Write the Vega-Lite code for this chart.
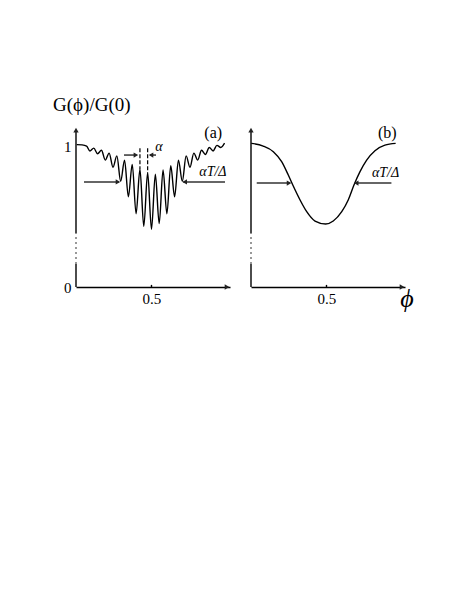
{
  "$schema": "https://vega.github.io/schema/vega-lite/v6.json",
  "background": "white",
  "padding": {"left": 53, "top": 96, "right": 5, "bottom": 5},
  "bounds": "flush",
  "spacing": 21,
  "config": {
    "view": {"stroke": null},
    "font": "Liberation Serif",
    "axis": {"grid": false, "labelColor": "black", "labelFont": "Liberation Serif", "labelFontSize": 15, "title": null}
  },
  "datasets": {
    "curveA": [
      {"x": 0.005, "v": 1.01}, {"x": 0.04, "v": 1.008}, {"x": 0.07, "v": 1.0},
      {"x": 0.092, "v": 0.965}, {"x": 0.1175, "v": 0.985}, {"x": 0.143, "v": 0.945},
      {"x": 0.1685, "v": 0.97}, {"x": 0.194, "v": 0.9}, {"x": 0.2195, "v": 0.95},
      {"x": 0.245, "v": 0.85}, {"x": 0.2705, "v": 0.93}, {"x": 0.296, "v": 0.75},
      {"x": 0.3215, "v": 0.9}, {"x": 0.347, "v": 0.64}, {"x": 0.3725, "v": 0.87},
      {"x": 0.398, "v": 0.52}, {"x": 0.4235, "v": 0.835}, {"x": 0.449, "v": 0.43},
      {"x": 0.4745, "v": 0.81}, {"x": 0.5, "v": 0.41}, {"x": 0.5255, "v": 0.8},
      {"x": 0.551, "v": 0.45}, {"x": 0.5765, "v": 0.83}, {"x": 0.602, "v": 0.52},
      {"x": 0.6275, "v": 0.86}, {"x": 0.653, "v": 0.64}, {"x": 0.6785, "v": 0.9},
      {"x": 0.704, "v": 0.75}, {"x": 0.7295, "v": 0.93}, {"x": 0.755, "v": 0.85},
      {"x": 0.7805, "v": 0.95}, {"x": 0.806, "v": 0.9}, {"x": 0.8315, "v": 0.97},
      {"x": 0.857, "v": 0.94}, {"x": 0.8825, "v": 0.99}, {"x": 0.908, "v": 0.965},
      {"x": 0.9335, "v": 1.005}, {"x": 0.959, "v": 0.99}, {"x": 0.984, "v": 1.02}
    ],
    "curveB": [
      {"x": 0.002, "v": 1.019}, {"x": 0.081, "v": 1.0}, {"x": 0.148, "v": 0.96},
      {"x": 0.203, "v": 0.889}, {"x": 0.247, "v": 0.794}, {"x": 0.28, "v": 0.716},
      {"x": 0.325, "v": 0.617}, {"x": 0.369, "v": 0.534}, {"x": 0.424, "v": 0.468},
      {"x": 0.495, "v": 0.447}, {"x": 0.545, "v": 0.468}, {"x": 0.601, "v": 0.534},
      {"x": 0.644, "v": 0.617}, {"x": 0.682, "v": 0.723}, {"x": 0.722, "v": 0.818},
      {"x": 0.766, "v": 0.9}, {"x": 0.821, "v": 0.967}, {"x": 0.887, "v": 1.007},
      {"x": 0.958, "v": 1.019}
    ],
    "segA": [
      {"kind": "solid", "x": 0, "x2": 0, "v": 0, "v2": 0.163},
      {"kind": "solid", "x": 0, "x2": 0, "v": 0.383, "v2": 1.11},
      {"kind": "broken", "x": 0, "x2": 0, "v": 0.163, "v2": 0.383},
      {"kind": "solid", "x": 0.5, "x2": 0.5, "v": 0, "v2": 0.015},
      {"kind": "arrow", "x": 0.053, "x2": 0.285, "v": 0.745, "v2": 0.745},
      {"kind": "arrow", "x": 0.987, "x2": 0.71, "v": 0.745, "v2": 0.745},
      {"kind": "arrow", "x": 0.318, "x2": 0.4, "v": 0.936, "v2": 0.936},
      {"kind": "arrow", "x": 0.53, "x2": 0.49, "v": 0.936, "v2": 0.936},
      {"kind": "marker", "x": 0.4235, "x2": 0.4235, "v": 0.985, "v2": 0.835},
      {"kind": "marker", "x": 0.4745, "x2": 0.4745, "v": 0.985, "v2": 0.81}
    ],
    "segB": [
      {"kind": "solid", "x": 0, "x2": 0, "v": 0, "v2": 0.163},
      {"kind": "solid", "x": 0, "x2": 0, "v": 0.383, "v2": 1.11},
      {"kind": "broken", "x": 0, "x2": 0, "v": 0.163, "v2": 0.383},
      {"kind": "solid", "x": 0.5, "x2": 0.5, "v": 0, "v2": 0.015},
      {"kind": "arrow", "x": 0.038, "x2": 0.255, "v": 0.737, "v2": 0.737},
      {"kind": "arrow", "x": 0.93, "x2": 0.69, "v": 0.737, "v2": 0.737}
    ],
    "headsA": [
      {"dir": "up", "x": 0, "v": 1.113},
      {"dir": "right", "x": 1.0, "v": 0},
      {"dir": "right", "x": 0.278, "v": 0.745},
      {"dir": "left", "x": 0.72, "v": 0.745},
      {"dir": "right", "x": 0.397, "v": 0.936},
      {"dir": "left", "x": 0.497, "v": 0.936}
    ],
    "headsB": [
      {"dir": "up", "x": 0, "v": 1.113},
      {"dir": "right", "x": 1.0, "v": 0},
      {"dir": "right", "x": 0.252, "v": 0.737},
      {"dir": "left", "x": 0.697, "v": 0.737}
    ],
    "textA": [
      {"kind": "title", "x": -0.152, "v": 1.29, "label": "G(ϕ)/G(0)"},
      {"kind": "panel", "x": 0.909, "v": 1.094, "label": "(a)"},
      {"kind": "math", "x": 0.55, "v": 0.993, "label": "α"},
      {"kind": "math", "x": 0.907, "v": 0.816, "label": "αT/Δ"}
    ],
    "textB": [
      {"kind": "panel", "x": 0.903, "v": 1.094, "label": "(b)"},
      {"kind": "math", "x": 0.891, "v": 0.809, "label": "αT/Δ"},
      {"kind": "axisname", "x": 1.033, "v": -0.085, "label": "ϕ"}
    ]
  },
  "hconcat": [
    {
      "width": 154,
      "height": 160,
      "encoding": {
        "x": {"field": "x", "type": "quantitative", "scale": {"domain": [0, 1.02], "nice": false, "zero": false},
              "axis": {"values": [0.5], "ticks": false, "domain": true, "domainColor": "black", "domainWidth": 1.4, "labelPadding": 4, "format": ".1f"}},
        "y": {"field": "v", "type": "quantitative", "scale": {"domain": [0, 1.135], "nice": false},
              "axis": {"values": [0, 1], "ticks": false, "domain": false, "labelPadding": 5, "format": "d"}}
      },
      "layer": [
        {"data": {"name": "curveA"}, "mark": {"type": "line", "interpolate": "monotone", "color": "black", "strokeWidth": 1.4}},
        {"data": {"name": "segA"}, "transform": [{"filter": "datum.kind == 'solid'"}],
         "mark": {"type": "rule", "color": "black", "strokeWidth": 1.4},
         "encoding": {"x2": {"field": "x2"}, "y2": {"field": "v2"}}},
        {"data": {"name": "segA"}, "transform": [{"filter": "datum.kind == 'broken'"}],
         "mark": {"type": "rule", "color": "#555", "strokeWidth": 1.2, "strokeDash": [2, 3]},
         "encoding": {"x2": {"field": "x2"}, "y2": {"field": "v2"}}},
        {"data": {"name": "segA"}, "transform": [{"filter": "datum.kind == 'arrow'"}],
         "mark": {"type": "rule", "color": "#333", "strokeWidth": 1.5},
         "encoding": {"x2": {"field": "x2"}, "y2": {"field": "v2"}}},
        {"data": {"name": "segA"}, "transform": [{"filter": "datum.kind == 'marker'"}],
         "mark": {"type": "rule", "color": "black", "strokeWidth": 1.2, "strokeDash": [4, 2]},
         "encoding": {"x2": {"field": "x2"}, "y2": {"field": "v2"}}},
        {"data": {"name": "headsA"},
         "mark": {"type": "point", "filled": true, "color": "#222", "size": 28, "opacity": 1},
         "encoding": {"shape": {"field": "dir", "type": "nominal", "scale": {"domain": ["up", "right", "left"], "range": ["triangle-up", "triangle-right", "triangle-left"]}, "legend": null}}},
        {"data": {"name": "textA"}, "transform": [{"filter": "datum.kind == 'title'"}],
         "mark": {"type": "text", "align": "left", "baseline": "middle", "fontSize": 19, "font": "Liberation Serif", "color": "black"},
         "encoding": {"text": {"field": "label"}}},
        {"data": {"name": "textA"}, "transform": [{"filter": "datum.kind == 'panel'"}],
         "mark": {"type": "text", "align": "center", "baseline": "middle", "fontSize": 16, "font": "Liberation Serif", "color": "black"},
         "encoding": {"text": {"field": "label"}}},
        {"data": {"name": "textA"}, "transform": [{"filter": "datum.kind == 'math'"}],
         "mark": {"type": "text", "align": "center", "baseline": "middle", "fontSize": 14, "fontStyle": "italic", "font": "Liberation Serif", "color": "black"},
         "encoding": {"text": {"field": "label"}}}
      ]
    },
    {
      "width": 154,
      "height": 160,
      "encoding": {
        "x": {"field": "x", "type": "quantitative", "scale": {"domain": [0, 1.02], "nice": false, "zero": false},
              "axis": {"values": [0.5], "ticks": false, "domain": true, "domainColor": "black", "domainWidth": 1.4, "labelPadding": 4, "format": ".1f"}},
        "y": {"field": "v", "type": "quantitative", "scale": {"domain": [0, 1.135], "nice": false}, "axis": null}
      },
      "layer": [
        {"data": {"name": "curveB"}, "mark": {"type": "line", "interpolate": "monotone", "color": "black", "strokeWidth": 1.4}},
        {"data": {"name": "segB"}, "transform": [{"filter": "datum.kind == 'solid'"}],
         "mark": {"type": "rule", "color": "black", "strokeWidth": 1.4},
         "encoding": {"x2": {"field": "x2"}, "y2": {"field": "v2"}}},
        {"data": {"name": "segB"}, "transform": [{"filter": "datum.kind == 'broken'"}],
         "mark": {"type": "rule", "color": "#555", "strokeWidth": 1.2, "strokeDash": [2, 3]},
         "encoding": {"x2": {"field": "x2"}, "y2": {"field": "v2"}}},
        {"data": {"name": "segB"}, "transform": [{"filter": "datum.kind == 'arrow'"}],
         "mark": {"type": "rule", "color": "#333", "strokeWidth": 1.5},
         "encoding": {"x2": {"field": "x2"}, "y2": {"field": "v2"}}},
        {"data": {"name": "headsB"},
         "mark": {"type": "point", "filled": true, "color": "#222", "size": 28, "opacity": 1},
         "encoding": {"shape": {"field": "dir", "type": "nominal", "scale": {"domain": ["up", "right", "left"], "range": ["triangle-up", "triangle-right", "triangle-left"]}, "legend": null}}},
        {"data": {"name": "textB"}, "transform": [{"filter": "datum.kind == 'panel'"}],
         "mark": {"type": "text", "align": "center", "baseline": "middle", "fontSize": 16, "font": "Liberation Serif", "color": "black"},
         "encoding": {"text": {"field": "label"}}},
        {"data": {"name": "textB"}, "transform": [{"filter": "datum.kind == 'math'"}],
         "mark": {"type": "text", "align": "center", "baseline": "middle", "fontSize": 14, "fontStyle": "italic", "font": "Liberation Serif", "color": "black"},
         "encoding": {"text": {"field": "label"}}},
        {"data": {"name": "textB"}, "transform": [{"filter": "datum.kind == 'axisname'"}],
         "mark": {"type": "text", "align": "center", "baseline": "middle", "fontSize": 26, "fontStyle": "italic", "font": "Liberation Serif", "color": "black"},
         "encoding": {"text": {"field": "label"}}}
      ]
    }
  ]
}
